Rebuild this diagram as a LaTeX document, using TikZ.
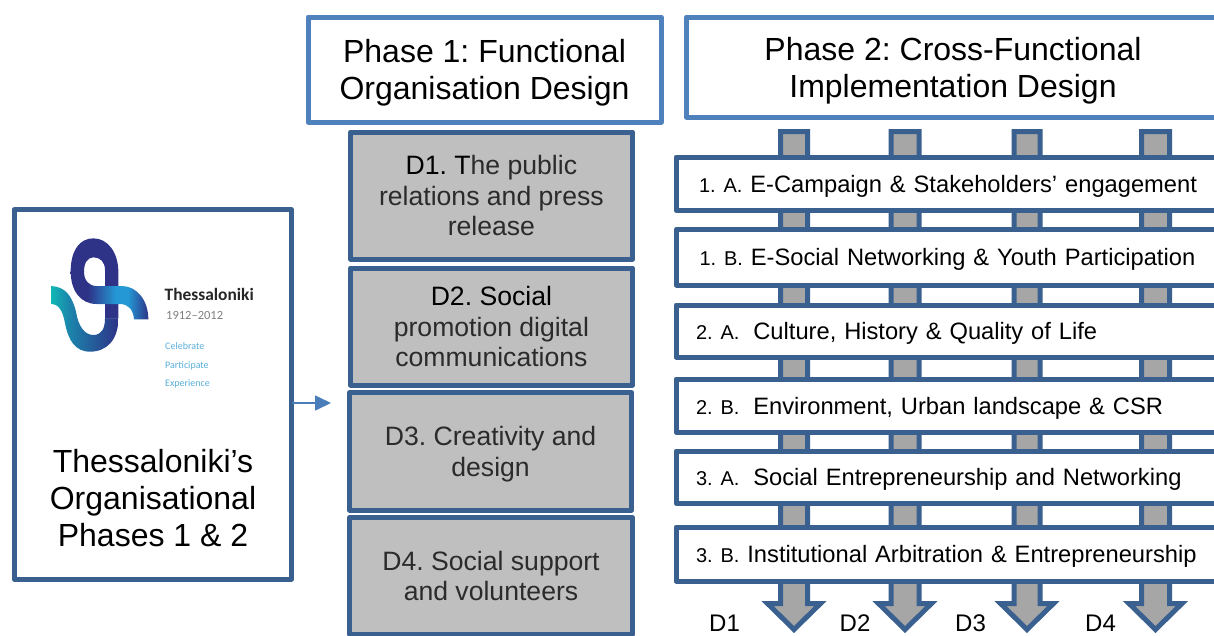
\documentclass[tikz,border=0pt]{standalone}
\usepackage{fontspec}
\setmainfont{Liberation Sans}
\newfontfamily\logofont{Carlito}
\usetikzlibrary{arrows.meta}
\frenchspacing
\definecolor{darkblue}{HTML}{3A6090}
\definecolor{lightblue}{HTML}{4F81BD}
\definecolor{arrowblue}{HTML}{4A7EBB}
\definecolor{boxgray}{HTML}{BFBFBF}
\definecolor{arrowgray}{HTML}{A6A6A6}
\definecolor{softblack}{HTML}{2B2B2B}
\definecolor{logoindigo}{HTML}{2E3388}
\definecolor{logoteal}{HTML}{10B8B4}
\definecolor{logomid}{HTML}{1B86AC}
\definecolor{logobright}{HTML}{2498D4}
\definecolor{logotext}{HTML}{5AAEDC}
\pgfdeclarehorizontalshading{lowerribbon}{100bp}{
  color(0bp)=(logoteal); color(25bp)=(logoteal); color(38bp)=(logomid);
  color(58bp)=(logoindigo!55!logomid); color(75bp)=(logoindigo); color(100bp)=(logoindigo)}
\pgfdeclarehorizontalshading{upperribbon}{100bp}{
  color(0bp)=(logoindigo); color(25bp)=(logoindigo); color(36bp)=(logoindigo);
  color(54bp)=(logobright); color(62bp)=(logobright); color(75bp)=(logoindigo); color(100bp)=(logoindigo)}
\tikzset{
  boxbase/.style={draw, line width=5pt, line join=round, outer sep=0pt, inner sep=0pt, anchor=north west, align=center},
  framebox/.style={boxbase, draw=darkblue, fill=white},
  phasebox/.style={boxbase, draw=lightblue, fill=white, font=\fontsize{32}{37}\selectfont},
  dimbox/.style={boxbase, draw=darkblue, fill=boxgray, text=softblack, font=\fontsize{26.6}{30.5}\selectfont},
  rowbox/.style={draw=darkblue, fill=white, line width=5pt, line join=round, outer sep=0pt, inner ysep=0pt,
    inner xsep=20pt, anchor=north west, align=left, text width=600pt, minimum width=640pt,
    font=\fontsize{23.7}{28}\selectfont},
  flowarrow/.style={draw=darkblue, fill=arrowgray, line width=5pt, line join=miter},
  maintext/.style={align=center, inner sep=0pt, font=\fontsize{32}{37}\selectfont},
  dlabel/.style={anchor=base west, inner sep=0pt, font=\fontsize{24}{28}\selectfont},
  logotxt/.style={anchor=base west, inner sep=0pt, text=logotext, font=\logofont\fontsize{10}{12}\selectfont},
  linkarrow/.style={draw=arrowblue, line width=1.6pt, -{Triangle[length=16pt,width=15pt]}}
}
\newcommand{\lab}[1]{\rule{0pt}{22pt}{\fontsize{20}{28}\selectfont #1}}
\newcommand{\pushdown}[1]{\rule{0pt}{#1}}
\newcommand{\flowdown}[2]{%
  \draw[flowarrow] ({#1-#2},131.5) -- ({#1+#2},131.5) -- ({#1+#2},603.5) -- ({#1+26.5},603.5)
    -- (#1,629.5) -- ({#1-26.5},603.5) -- ({#1-#2},603.5) -- cycle;}
\begin{document}
\begin{tikzpicture}[x=1pt,y=-1pt]
\useasboundingbox (0,0) rectangle (1214,635);
\clip (0,0) rectangle (1214,635);
\fill[white] (0,0) rectangle (1214,635);

% organisation box
\node[framebox, minimum width=277.5pt, minimum height=369.3pt] (org) at (14,209.7) {};
\node[maintext] (orgtext) at (153,498) {Thessaloniki’s\\Organisational\\Phases 1 \& 2};

% logo
\begin{scope}[shift={(40,230)}, x=0.33333pt, y=-0.33333pt]
  \shade[shading=lowerribbon]
    (33,168) .. controls (75,170) and (95,195) .. (108,245)
    .. controls (115,290) and (135,315) .. (160,315)
    .. controls (185,315) and (195,295) .. (195,265)
    -- (235,265) .. controls (235,330) and (200,365) .. (150,365)
    .. controls (105,365) and (85,330) .. (75,280)
    .. controls (68,240) and (55,222) .. (33,222) -- cycle;
  \fill[logoindigo]
    (195,266) -- (195,120) .. controls (195,95) and (180,82) .. (160,82)
    .. controls (142,82) and (132,100) .. (132,125)
    -- (132,126) -- (92,126) -- (92,125) .. controls (92,60) and (120,25) .. (160,25)
    .. controls (205,25) and (235,70) .. (235,125) -- (235,266) -- cycle;
  \shade[shading=upperribbon]
    (92,124) -- (132,124) .. controls (132,150) and (145,168) .. (170,168)
    -- (245,168) .. controls (290,168) and (325,210) .. (325,268)
    -- (282,268) .. controls (280,240) and (265,222) .. (240,222)
    -- (170,222) .. controls (120,222) and (92,180) .. (92,124) -- cycle;
\end{scope}
\node[anchor=base west, inner sep=0pt, text=black!85, font=\logofont\bfseries\fontsize{17.4}{20}\selectfont] (logoname) at (164.5,300) {Thessaloniki};
\node[anchor=base west, inner sep=0pt, text=black!50, font=\logofont\fontsize{12.5}{15}\selectfont] (logoyears) at (166,319) {1912–2012};
\node[logotxt] (logoa) at (165,349) {Celebrate};
\node[logotxt] (logob) at (165,368) {Participate};
\node[logotxt] (logoc) at (165,386) {Experience};

% link arrow
\coordinate (linkend) at (331,403);
\draw[linkarrow] (org.east |- linkend) -- (linkend);

% phase headers
\node[phasebox, minimum width=353pt, minimum height=105pt] (phaseone) at (308,17) {\pushdown{29pt}Phase 1: Functional\\Organisation Design};
\node[phasebox, minimum width=533pt, minimum height=100pt] (phasetwo) at (686.5,17) {\pushdown{31pt}Phase 2: Cross-Functional\\Implementation Design};

% dimension boxes
\node[dimbox, minimum width=282.2pt, minimum height=127pt] (done) at (350.3,132)
  {{\color{black}D1. T}he public\\relations and press\\release};
\node[dimbox, minimum width=282.2pt, minimum height=117pt] (dtwo) at (350.3,268)
  {{\color{black}D2. Social}\\promotion digital\\communications};
\node[dimbox, minimum width=282.2pt, minimum height=117.3pt] (dthree) at (349.5,392.7)
  {\pushdown{25pt}D3. Creativity and\\design};
\node[dimbox, minimum width=283pt, minimum height=116.8pt] (dfour) at (349.5,517.7)
  {D4. Social support\\and volunteers};

% vertical flow arrows
\flowdown{794}{13.5}
\flowdown{905}{14}
\flowdown{1027}{13}
\flowdown{1155.5}{14}

% rows
\node[rowbox, minimum height=53pt] (rowoa) at (676,157) {\hspace*{3pt}\lab{1. A.} E-Campaign \& Stakeholders’ engagement};
\node[rowbox, minimum height=56pt] (rowob) at (676.5,229) {\hspace*{3pt}\lab{1. B.} E-Social Networking \& Youth Participation};
\node[rowbox, minimum height=52pt] (rowta) at (676,305) {\lab{2. A.}\hspace{6pt} Culture, History \& Quality of Life};
\node[rowbox, minimum height=53pt] (rowtb) at (676,379) {\lab{2. B.}\hspace{6pt} Environment, Urban landscape \& CSR};
\node[rowbox, minimum height=52pt] (rowha) at (676,451) {\lab{3. A.}\hspace{6pt} Social Entrepreneurship and Networking};
\node[rowbox, minimum height=54pt] (rowhb) at (676,527) {\lab{3. B.} Institutional Arbitration \& Entrepreneurship};

% D labels
\node[dlabel] (labone) at (709,631) {D1};
\node[dlabel] (labtwo) at (839.5,631) {D2};
\node[dlabel] (labthree) at (955,631) {D3};
\node[dlabel] (labfour) at (1085,631) {D4};
\end{tikzpicture}
\end{document}
